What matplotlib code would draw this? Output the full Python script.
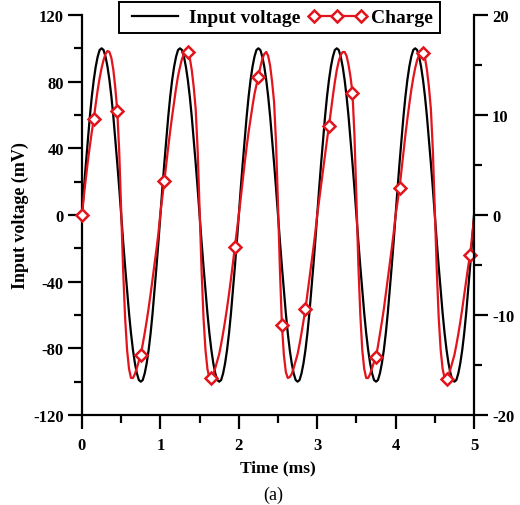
import numpy as np
import matplotlib
matplotlib.use('Agg')
import matplotlib.pyplot as plt
from matplotlib.ticker import MultipleLocator

# --- Data ---
# sample grid, 0.025 ms steps
time_ms = np.linspace(0, 5, 201)

# Input voltage (mV), left axis
input_voltage = [
    0, 16, 31, 45, 59, 71, 81, 89, 95, 99, 100, 99, 95, 89, 81, 71, 59, 45, 31, 16,
    0, -16, -31, -45, -59, -71, -81, -89, -95, -99, -100, -99, -95, -89, -81, -71, -59, -45, -31, -16,
    0, 16, 31, 45, 59, 71, 81, 89, 95, 99, 100, 99, 95, 89, 81, 71, 59, 45, 31, 16,
    0, -16, -31, -45, -59, -71, -81, -89, -95, -99, -100, -99, -95, -89, -81, -71, -59, -45, -31, -16,
    0, 16, 31, 45, 59, 71, 81, 89, 95, 99, 100, 99, 95, 89, 81, 71, 59, 45, 31, 16,
    0, -16, -31, -45, -59, -71, -81, -89, -95, -99, -100, -99, -95, -89, -81, -71, -59, -45, -31, -16,
    0, 16, 31, 45, 59, 71, 81, 89, 95, 99, 100, 99, 95, 89, 81, 71, 59, 45, 31, 16,
    0, -16, -31, -45, -59, -71, -81, -89, -95, -99, -100, -99, -95, -89, -81, -71, -59, -45, -31, -16,
    0, 16, 31, 45, 59, 71, 81, 89, 95, 99, 100, 99, 95, 89, 81, 71, 59, 45, 31, 16,
    0, -16, -31, -45, -59, -71, -81, -89, -95, -99, -100, -99, -95, -89, -81, -71, -59, -45, -31, -16,
    0,
]

# Charge, right axis
charge = [
    # 0 - 1 ms
    0.0, 2.0, 3.7, 5.4, 6.9, 8.3, 9.6, 11.1, 12.5, 13.7, 14.7, 15.5, 16.1, 16.4, 16.3, 15.7,
    14.5, 12.7, 10.4, 6.3, 0.3, -5.6, -10.3, -13.5, -15.4, -16.3, -16.3, -15.9, -15.3, -14.6,
    -14.0, -12.9, -11.8, -10.6, -9.3, -7.9, -6.4, -4.9, -3.4, -1.8,
    # 1 - 2 ms
    0.2, 1.8, 3.4, 5.1, 6.8, 8.4, 9.9, 11.3, 12.7, 13.9, 14.8, 15.6, 16.1, 16.4, 16.3, 15.7,
    14.5, 12.8, 10.6, 6.5, 0.5, -5.5, -10.3, -13.5, -15.4, -16.3, -16.3, -15.9, -15.3, -14.6,
    -13.9, -12.9, -11.8, -10.6, -9.3, -7.9, -6.4, -4.8, -3.2, -1.6,
    # 2 - 3 ms
    0.0, 1.7, 3.5, 5.2, 6.8, 8.3, 9.6, 10.9, 12.1, 13.0, 13.8, 14.8, 15.6, 16.1, 16.3, 15.9,
    14.9, 13.3, 11.3, 7.2, 1.0, -5.6, -11.0, -14.0, -15.7, -16.3, -16.2, -15.9, -15.3, -14.6,
    -13.9, -12.9, -11.8, -10.6, -9.4, -7.9, -6.4, -4.9, -3.4, -1.8,
    # 3 - 4 ms
    0.0, 1.5, 3.0, 4.5, 6.0, 7.5, 8.9, 10.4, 11.9, 13.3, 14.5, 15.4, 16.0, 16.3, 16.3, 15.9,
    15.0, 13.8, 12.2, 8.0, 1.7, -5.0, -10.0, -13.5, -15.4, -16.3, -16.3, -15.9, -15.3, -14.7,
    -14.2, -13.1, -11.9, -10.7, -9.4, -7.9, -6.4, -4.9, -3.4, -1.8,
    # 4 - 5 ms
    0.0, 1.3, 2.7, 4.5, 6.3, 8.0, 9.6, 11.1, 12.5, 13.7, 14.7, 15.5, 16.0, 16.2, 16.2, 15.7,
    14.5, 12.8, 10.6, 6.5, 0.5, -5.5, -10.3, -13.5, -15.4, -16.3, -16.4, -16.0, -15.4, -14.7,
    -14.0, -13.0, -11.9, -10.7, -9.4, -8.0, -6.6, -5.2, -4.0, -2.2,
    -0.4,
]

# samples that carry a diamond marker
marker_idx = [0] + list(range(6, 201, 12))

# --- Style ---
plt.rcParams['font.family'] = ['Liberation Serif', 'DejaVu Serif']
plt.rcParams['font.weight'] = 'bold'
plt.rcParams['axes.unicode_minus'] = False

RED = '#e3141c'
W, H = 520, 506

fig = plt.figure(figsize=(W / 100, H / 100), dpi=100)
ax = fig.add_axes([82 / W, 1 - 416 / H, (474 - 82) / W, (416 - 16) / H])
ax2 = ax.twinx()

# --- Curves ---
l1, = ax.plot(time_ms, input_voltage, color='black', lw=1.6, label='Input voltage')
l2, = ax2.plot(time_ms, charge, color=RED, lw=1.6, marker='D', markevery=marker_idx,
               ms=6.3, mfc='white', mec=RED, mew=1.8, clip_on=False, label='Charge')

ax.set_xlim(0, 5)
ax.set_ylim(-120, 120)
ax2.set_ylim(-20, 20)

# --- Axes / ticks ---
for a in (ax, ax2):
    a.spines['top'].set_visible(False)
    for s in a.spines.values():
        s.set_linewidth(1.6)
ax.spines['right'].set_visible(False)
ax2.spines['left'].set_visible(False)
ax2.spines['bottom'].set_visible(False)

ax.xaxis.set_major_locator(MultipleLocator(1))
ax.xaxis.set_minor_locator(MultipleLocator(0.5))
ax.yaxis.set_major_locator(MultipleLocator(40))
ax.yaxis.set_minor_locator(MultipleLocator(20))
ax2.yaxis.set_major_locator(MultipleLocator(10))
ax2.yaxis.set_minor_locator(MultipleLocator(5))

ax.tick_params(which='major', direction='out', length=10, width=1.6, labelsize=12, pad=3,
               top=False, right=False)
ax.tick_params(which='minor', direction='out', length=5.5, width=1.6, top=False, right=False)
ax.tick_params(axis='x', which='major', pad=6)
ax2.tick_params(which='major', direction='out', length=10, width=1.6, labelsize=12, pad=3)
ax2.tick_params(which='minor', direction='out', length=5.5, width=1.6)

fig.text(20 / W, 1 - 216 / H, 'Input voltage (mV)', rotation=90, ha='center', va='center',
         fontsize=13, fontweight='bold')
fig.text(278 / W, 1 - 468 / H, 'Time (ms)', ha='center', va='center',
         fontsize=12.5, fontweight='bold')
fig.text(273 / W, 1 - 495 / H, '(a)', ha='center', va='center', fontsize=13,
         fontweight='normal')

leg = fig.legend(handles=[l1, l2], loc='upper left', bbox_to_anchor=(119 / W, 1 - 3 / H),
                 ncol=2, frameon=True, fancybox=False, fontsize=14, numpoints=3,
                 handlelength=3.0, handletextpad=0.25, columnspacing=0.4,
                 borderpad=0.35, borderaxespad=0)
leg.get_frame().set_edgecolor('black')
leg.get_frame().set_linewidth(1.4)
leg.get_frame().set_alpha(1)

fig.savefig('out.png', dpi=100)
